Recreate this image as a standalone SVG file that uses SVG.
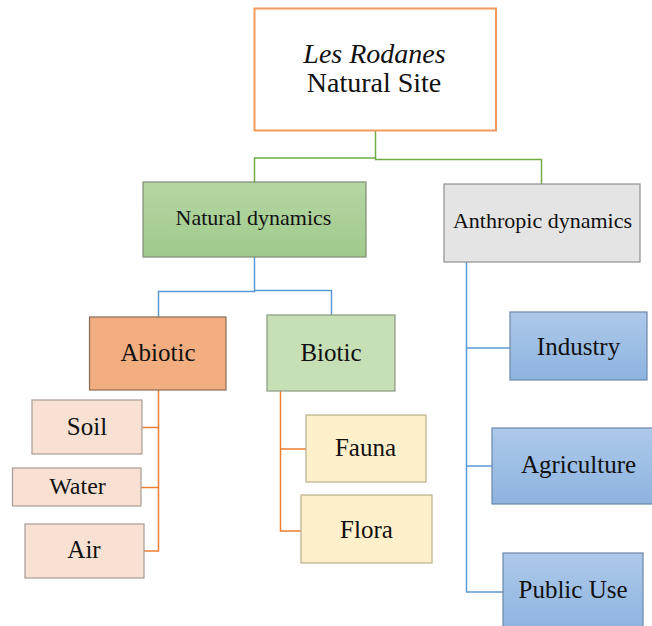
<svg xmlns="http://www.w3.org/2000/svg" width="652" height="626" viewBox="0 0 652 626">
  <defs>
    <linearGradient id="gGreen" x1="0" y1="0" x2="0" y2="1">
      <stop offset="0" stop-color="#B5D6A4"/>
      <stop offset="1" stop-color="#A0CA8B"/>
    </linearGradient>
    <linearGradient id="gBlue" x1="0" y1="0" x2="0" y2="1">
      <stop offset="0" stop-color="#ADC9EA"/>
      <stop offset="1" stop-color="#8DB3DF"/>
    </linearGradient>
    <style>
      .root { fill: #FFFFFF; stroke: #F39A5E; stroke-width: 2; }
      .natural { fill: url(#gGreen); stroke: #7D8C74; stroke-width: 1.2; }
      .anthropic { fill: #E4E4E4; stroke: #8F8F8F; stroke-width: 1.2; }
      .abiotic { fill: #F2AE80; stroke: #8C6A55; stroke-width: 1.2; }
      .biotic { fill: #C6DFB5; stroke: #8A9A80; stroke-width: 1.2; }
      .abio-leaf { fill: #F8E1D3; stroke: #A79B95; stroke-width: 1.2; }
      .bio-leaf { fill: #FFF0CC; stroke: #B8AE8C; stroke-width: 1.2; }
      .human { fill: url(#gBlue); stroke: #6C87A8; stroke-width: 1.2; }
      .lnGreen { fill: none; stroke: #70AD47; stroke-width: 1.5; }
      .lnBlue { fill: none; stroke: #5B9BD5; stroke-width: 1.5; }
      .lnOrange { fill: none; stroke: #ED7D31; stroke-width: 1.5; }
      .lbl { font-family: "Liberation Serif", Tinos, "Noto Serif", "DejaVu Serif", FreeSerif, Times, serif; fill: #111; text-anchor: middle; }
    </style>
  </defs>

  <rect width="652" height="626" fill="#FFFFFF"/>

  <!-- connectors -->
  <g id="connectors">
    <polyline class="lnGreen" points="375.5,131 375.5,158 254.5,158 254.5,182"/>
    <polyline class="lnGreen" points="375.5,158 375.5,159.5 541.5,159.5 541.5,184"/>
    <polyline class="lnBlue" points="254.5,257 254.5,291.5 158.5,291.5 158.5,317"/>
    <polyline class="lnBlue" points="254.5,290.5 331.5,290.5 331.5,315"/>
    <polyline class="lnOrange" points="158.5,390 158.5,551 144,551"/>
    <line class="lnOrange" x1="142" y1="427.5" x2="158.5" y2="427.5"/>
    <line class="lnOrange" x1="141" y1="487.5" x2="158.5" y2="487.5"/>
    <polyline class="lnOrange" points="280.5,391 280.5,531 301,531"/>
    <line class="lnOrange" x1="280.5" y1="449" x2="306" y2="449"/>
    <polyline class="lnBlue" points="466.5,262 466.5,592 503,592"/>
    <line class="lnBlue" x1="466.5" y1="348" x2="510" y2="348"/>
    <line class="lnBlue" x1="466.5" y1="466" x2="492" y2="466"/>
  </g>

  <g id="node-root">
    <rect class="root" x="254.5" y="8.5" width="241.5" height="122"/>
    <text class="lbl" x="374.5" y="63" font-size="28" font-style="italic">Les Rodanes</text>
    <text class="lbl" x="374" y="92" font-size="28">Natural Site</text>
  </g>

  <g id="node-natural">
    <rect class="natural" x="143" y="182" width="223" height="75"/>
    <text class="lbl" x="253.5" y="225" font-size="22">Natural dynamics</text>
  </g>

  <g id="node-anthropic">
    <rect class="anthropic" x="444" y="184" width="196" height="78"/>
    <text class="lbl" x="542.5" y="228" font-size="22">Anthropic dynamics</text>
  </g>

  <g id="node-abiotic">
    <rect class="abiotic" x="89.5" y="317" width="136.5" height="73"/>
    <text class="lbl" x="158" y="361" font-size="25">Abiotic</text>
  </g>

  <g id="node-biotic">
    <rect class="biotic" x="267" y="315" width="128" height="76"/>
    <text class="lbl" x="331" y="361" font-size="25">Biotic</text>
  </g>

  <g id="node-soil">
    <rect class="abio-leaf" x="32" y="400" width="110" height="54"/>
    <text class="lbl" x="87" y="435" font-size="25">Soil</text>
  </g>

  <g id="node-water">
    <rect class="abio-leaf" x="12.5" y="468" width="128.5" height="38"/>
    <text class="lbl" x="77.5" y="494" font-size="24">Water</text>
  </g>

  <g id="node-air">
    <rect class="abio-leaf" x="25" y="524" width="119" height="54"/>
    <text class="lbl" x="84" y="558" font-size="25">Air</text>
  </g>

  <g id="node-fauna">
    <rect class="bio-leaf" x="306" y="415" width="120" height="67"/>
    <text class="lbl" x="365.5" y="456" font-size="25">Fauna</text>
  </g>

  <g id="node-flora">
    <rect class="bio-leaf" x="301" y="495" width="131" height="68"/>
    <text class="lbl" x="366.5" y="538" font-size="25">Flora</text>
  </g>

  <g id="node-industry">
    <rect class="human" x="510" y="312" width="137" height="68"/>
    <text class="lbl" x="578.5" y="355" font-size="25">Industry</text>
  </g>

  <g id="node-agriculture">
    <rect class="human" x="492" y="428" width="164" height="76"/>
    <text class="lbl" x="578.5" y="473" font-size="25">Agriculture</text>
  </g>

  <g id="node-public-use">
    <rect class="human" x="503" y="553" width="140" height="80"/>
    <text class="lbl" x="573" y="598" font-size="25">Public Use</text>
  </g>
</svg>
